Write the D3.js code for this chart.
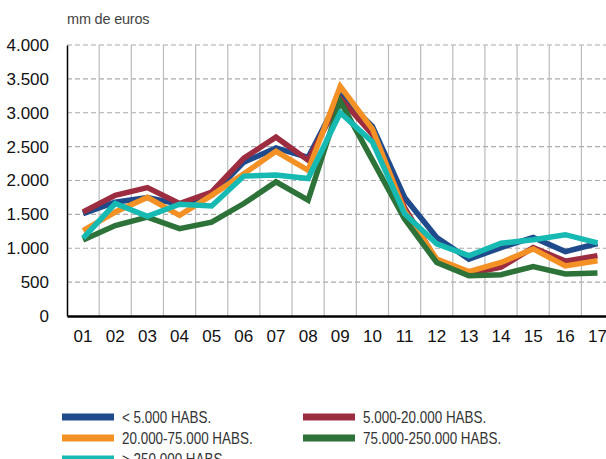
<!DOCTYPE html>
<html>
<head>
<meta charset="utf-8">
<script src="https://cdn.jsdelivr.net/npm/d3@7"></script>
<style>
  body { margin: 0; background: #fff; }
  text { font-family: "Liberation Sans", Arial, sans-serif; }
</style>
</head>
<body>
<svg id="viz"></svg>
<script>
var width = 606;
var height = 459;

// Data
var years = ["01","02","03","04","05","06","07","08","09","10","11","12","13","14","15","16","17"];
var seriesNames = ["< 5.000 HABS.", "5.000-20.000 HABS.", "20.000-75.000 HABS.", "75.000-250.000 HABS.", "> 250.000 HABS."];
var seriesColors = ["#1f4a8c", "#9c2d40", "#f39125", "#2d7239", "#17bab2"];
var menos5000 = [1510, 1680, 1750, 1650, 1780, 2270, 2480, 2340, 3260, 2800, 1750, 1160, 840, 1010, 1160, 950, 1070];
var de5a20 = [1535, 1780, 1895, 1660, 1830, 2330, 2640, 2300, 3210, 2680, 1600, 820, 620, 720, 1010, 810, 890];
var de20a75 = [1260, 1535, 1750, 1485, 1780, 2100, 2430, 2150, 3390, 2760, 1550, 840, 655, 790, 990, 740, 815];
var de75a250 = [1120, 1335, 1460, 1290, 1385, 1660, 1980, 1710, 3170, 2300, 1430, 790, 595, 610, 730, 620, 635];
var mas250000 = [1150, 1660, 1470, 1650, 1625, 2065, 2080, 2030, 3000, 2570, 1510, 1065, 890, 1075, 1125, 1200, 1080];
var allSeries = [menos5000, de5a20, de20a75, de75a250, mas250000];
var yTicks = [0, 500, 1000, 1500, 2000, 2500, 3000, 3500, 4000];

var svg = d3.select("#viz")
  .attr("width", width)
  .attr("height", height);

var plotLeft = 67, plotTop = 45, plotH = 271;
var step = 32.15;

var x = d3.scaleBand()
  .domain(years)
  .range([plotLeft, plotLeft + step * years.length]);

var y = d3.scaleLinear()
  .domain([0, 4000])
  .range([plotTop + plotH, plotTop]);

var fmt = function (d) {
  return d === 0 ? "0" : d3.format(",")(d).replace(",", ".");
};

// unit label
svg.append("text")
  .attr("x", 67)
  .attr("y", 24)
  .attr("font-size", 14.5)
  .attr("fill", "#444")
  .attr("letter-spacing", "-0.2px")
  .text("mm de euros");

// horizontal dashed grid
svg.append("g").selectAll("line")
  .data(yTicks.filter(function (d) { return d > 0; }))
  .enter().append("line")
  .attr("x1", plotLeft)
  .attr("x2", width)
  .attr("y1", function (d) { return y(d); })
  .attr("y2", function (d) { return y(d); })
  .attr("stroke", "#aaa")
  .attr("stroke-width", 1.2)
  .attr("stroke-dasharray", "5,3");

// vertical grid at band edges
svg.append("g").selectAll("line")
  .data(years.slice(1))
  .enter().append("line")
  .attr("x1", function (d) { return x(d); })
  .attr("x2", function (d) { return x(d); })
  .attr("y1", plotTop)
  .attr("y2", plotTop + plotH)
  .attr("stroke", "#bbb")
  .attr("stroke-width", 1.2);

// y axis
var yAxis = d3.axisLeft(y)
  .tickValues(yTicks)
  .tickFormat(fmt)
  .tickSize(0)
  .tickPadding(18);

svg.append("g")
  .attr("transform", "translate(" + plotLeft + ",0)")
  .call(yAxis)
  .call(function (g) {
    g.select(".domain").attr("stroke", "#000").attr("stroke-width", 1.5);
    g.selectAll("text").attr("font-size", 17).attr("fill", "#111")
      .style("font-family", "'Liberation Sans', Arial, sans-serif");
  });

// x axis
var xAxis = d3.axisBottom(x)
  .tickSize(0)
  .tickPadding(14);

svg.append("g")
  .attr("transform", "translate(0," + (plotTop + plotH) + ")")
  .call(xAxis)
  .call(function (g) {
    g.select(".domain").attr("stroke", "#000").attr("stroke-width", 2.5);
    g.selectAll("text").attr("font-size", 17).attr("fill", "#111")
      .style("font-family", "'Liberation Sans', Arial, sans-serif");
  });

// lines
var line = d3.line()
  .x(function (d, i) { return x(years[i]) + x.bandwidth() / 2; })
  .y(function (d) { return y(d); });

svg.append("g").selectAll("path")
  .data(allSeries)
  .enter().append("path")
  .attr("d", line)
  .attr("fill", "none")
  .attr("stroke", function (d, i) { return seriesColors[i]; })
  .attr("stroke-width", 5.5)
  .attr("stroke-linejoin", "miter");

// legend
var legendPos = [[62, 417], [303, 417], [62, 438], [303, 438], [62, 459]];
var legend = svg.append("g").selectAll("g")
  .data(seriesNames)
  .enter().append("g")
  .attr("transform", function (d, i) { return "translate(" + legendPos[i][0] + "," + legendPos[i][1] + ")"; });

legend.append("rect")
  .attr("x", 0)
  .attr("y", -3.5)
  .attr("width", 52)
  .attr("height", 7)
  .attr("fill", function (d, i) { return seriesColors[i]; });

// condensed look of the original legend font
legend.append("text")
  .attr("transform", "translate(60,6) scale(0.84,1)")
  .attr("font-size", 16)
  .attr("fill", "#333")
  .text(function (d) { return d; });
</script>
</body>
</html>
